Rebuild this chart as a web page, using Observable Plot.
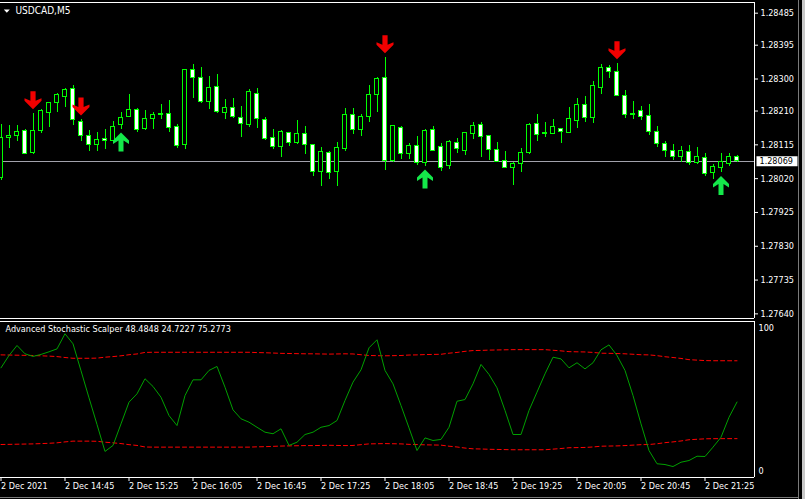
<!DOCTYPE html>
<html><head><meta charset="utf-8">
<script src="https://cdn.jsdelivr.net/npm/d3@7"></script>
<script src="https://cdn.jsdelivr.net/npm/@observablehq/plot@0.6"></script>
<style>
html,body{margin:0;padding:0;background:#000;}
#wrap{position:relative;width:805px;height:499px;background:#000;overflow:hidden;}
#wrap svg{display:block;}
.edge{position:absolute;}
</style></head><body><div id="wrap"><div id="main"></div><div id="ind"></div>
<div class="edge" style="left:798px;top:0;width:1px;height:499px;background:#7a7a7a"></div>
<div class="edge" style="left:802px;top:0;width:3px;height:499px;background:#c8c8c8"></div>
<div class="edge" style="left:0;top:497px;width:799px;height:1px;background:#7a7a7a"></div>
</div>
<script>
const symbolName = "USDCAD,M5";
const indicatorTitle = "Advanced Stochastic Scalper 48.4848 24.7227 75.2773";
const currentPrice = 1.28069;

const opens = [1.28021,1.28135,1.28141,1.28155,1.28092,1.28154,1.28204,1.28232,1.28249,1.28273,
1.28178,1.28141,1.28115,1.28132,1.28127,1.28171,1.28193,1.28214,1.28160,1.28188,
1.28200,1.28202,1.28165,1.28115,1.28324,1.28304,1.28235,1.28278,1.28205,1.28219,
1.28191,1.28170,1.28259,1.28186,1.28135,1.28109,1.28149,1.28120,1.28146,1.28115,
1.28038,1.28093,1.28038,1.28103,1.28200,1.28156,1.28193,1.28255,1.28304,1.28070,
1.28161,1.28089,1.28111,1.28065,1.28158,1.28108,1.28055,1.28119,1.28097,1.28145,
1.28172,1.28139,1.28101,1.28070,1.28051,1.28062,1.28092,1.28174,1.28145,1.28145,
1.28160,1.28149,1.28182,1.28228,1.28190,1.28274,1.28332,1.28321,1.28251,1.28203,
1.28209,1.28195,1.28152,1.28118,1.28098,1.28080,1.28096,1.28064,1.28079,1.28036,
1.28050,1.28061,1.28082];
const highs = [1.28172,1.28168,1.28170,1.28157,1.28204,1.28214,1.28235,1.28260,1.28272,1.28282,
1.28186,1.28154,1.28150,1.28159,1.28181,1.28206,1.28257,1.28216,1.28212,1.28205,
1.28229,1.28239,1.28172,1.28328,1.28340,1.28332,1.28307,1.28313,1.28243,1.28245,
1.28223,1.28271,1.28273,1.28192,1.28158,1.28154,1.28151,1.28184,1.28167,1.28117,
1.28108,1.28095,1.28121,1.28217,1.28217,1.28200,1.28282,1.28304,1.28361,1.28170,
1.28167,1.28119,1.28139,1.28158,1.28167,1.28118,1.28127,1.28133,1.28149,1.28178,
1.28178,1.28141,1.28122,1.28096,1.28064,1.28105,1.28174,1.28200,1.28178,1.28186,
1.28162,1.28221,1.28246,1.28251,1.28293,1.28340,1.28338,1.28344,1.28267,1.28237,
1.28223,1.28229,1.28167,1.28124,1.28116,1.28110,1.28113,1.28107,1.28091,1.28060,
1.28091,1.28091,1.28084];
const lows = [1.28015,1.28104,1.28123,1.28088,1.28089,1.28146,1.28165,1.28207,1.28221,1.28170,
1.28123,1.28095,1.28097,1.28101,1.28122,1.28158,1.28191,1.28149,1.28156,1.28158,
1.28186,1.28151,1.28104,1.28103,1.28246,1.28232,1.28214,1.28202,1.28187,1.28189,
1.28137,1.28165,1.28162,1.28128,1.28103,1.28080,1.28111,1.28117,1.28089,1.28027,
1.27999,1.28019,1.27999,1.28097,1.28145,1.28139,1.28178,1.28207,1.28043,1.28065,
1.28074,1.28074,1.28057,1.28054,1.28095,1.28041,1.28046,1.28092,1.28085,1.28130,
1.28080,1.28071,1.28064,1.28049,1.28002,1.28038,1.28087,1.28125,1.28137,1.28143,
1.28120,1.28147,1.28161,1.28179,1.28175,1.28257,1.28302,1.28250,1.28190,1.28186,
1.28184,1.28141,1.28107,1.28080,1.28071,1.28065,1.28058,1.28061,1.28027,1.28018,
1.28036,1.28055,1.28064];
const closes = [1.28133,1.28141,1.28150,1.28090,1.28153,1.28209,1.28233,1.28254,1.28270,1.28186,
1.28139,1.28115,1.28129,1.28127,1.28166,1.28191,1.28214,1.28157,1.28188,1.28200,
1.28201,1.28163,1.28113,1.28326,1.28304,1.28235,1.28275,1.28207,1.28219,1.28193,
1.28173,1.28264,1.28188,1.28131,1.28109,1.28150,1.28120,1.28146,1.28115,1.28038,
1.28096,1.28037,1.28107,1.28200,1.28156,1.28194,1.28256,1.28301,1.28070,1.28167,
1.28089,1.28111,1.28064,1.28155,1.28099,1.28051,1.28122,1.28104,1.28147,1.28167,
1.28138,1.28100,1.28066,1.28051,1.28062,1.28093,1.28171,1.28143,1.28147,1.28166,
1.28152,1.28188,1.28228,1.28190,1.28281,1.28332,1.28319,1.28252,1.28198,1.28198,
1.28193,1.28151,1.28118,1.28097,1.28080,1.28098,1.28064,1.28082,1.28033,1.28054,
1.28066,1.28082,1.28069];

const sellIdx = [4, 10, 48, 77];
const buyIdx = [15, 53, 90];

const priceTicks = [1.28485,1.28395,1.28300,1.28210,1.28115,1.28020,1.27925,1.27830,1.27735,1.27640];
const timeTicks = [0,8,16,24,32,40,48,56,64,72,80,88];
const timeLabels = ["2 Dec 2021","2 Dec 14:45","2 Dec 15:25","2 Dec 16:05","2 Dec 16:45","2 Dec 17:25",
"2 Dec 18:05","2 Dec 18:45","2 Dec 19:25","2 Dec 20:05","2 Dec 20:45","2 Dec 21:25"];

const stoch = [70.7,78.7,85.2,79.8,78.1,79.4,81.1,83.0,92.8,86.3,
68.8,51.2,33.9,16.4,20.3,34.3,48.4,53.8,63.6,58.6,
51.6,39.7,33.2,52.7,62.9,62.9,69.0,71.6,58.1,43.4,
37.6,35.4,32.1,28.9,27.9,31.1,20.3,22.4,27.4,28.9,
32.1,33.2,36.5,49.5,61.4,69.4,83.7,88.9,69.0,60.3,
46.2,31.7,17.0,25.2,23.5,24.2,32.1,49.0,50.1,60.3,
72.9,66.4,57.7,43.0,27.4,27.4,43.0,54.9,66.8,77.6,
76.5,70.7,74.0,70.0,74.0,82.4,85.6,78.7,69.0,52.7,
34.3,17.0,8.4,7.9,6.6,9.4,10.5,13.3,13.1,19.2,
25.6,38.6,48.4848];
const lowerBand = [20.9,21.0,21.1,21.2,21.3,21.5,21.7,22.0,22.6,23.1,
23.1,23.1,23.0,22.4,22.0,21.5,20.8,20.3,19.3,19.2,
19.2,19.2,19.2,19.2,19.2,19.2,19.2,19.2,19.2,19.2,
19.2,19.2,19.4,19.5,19.7,19.9,20.0,20.1,20.2,20.2,
20.3,20.4,20.3,20.2,20.3,20.8,21.3,21.4,21.5,21.4,
21.3,21.0,20.9,20.7,20.6,20.5,19.8,19.3,18.6,18.1,
18.0,17.8,17.7,17.6,17.5,17.5,17.5,17.5,17.5,17.9,
18.3,18.8,18.9,19.0,19.3,19.8,19.9,20.0,20.2,20.5,
20.8,20.9,21.4,22.1,22.6,23.2,24.0,24.3,24.6,24.7,
24.7,24.72,24.7227];
const upperBand = [79.1,79.0,78.9,78.8,78.7,78.5,78.3,78.0,77.4,76.9,
76.9,76.9,77.0,77.6,78.0,78.5,79.2,79.7,80.7,80.8,
80.8,80.8,80.8,80.8,80.8,80.8,80.8,80.8,80.8,80.8,
80.8,80.8,80.6,80.5,80.3,80.1,80.0,79.9,79.8,79.8,
79.7,79.6,79.7,79.8,79.7,79.2,78.7,78.6,78.5,78.6,
78.7,79.0,79.1,79.3,79.4,79.5,80.2,80.7,81.4,81.9,
82.0,82.2,82.3,82.4,82.5,82.5,82.5,82.5,82.5,82.1,
81.7,81.2,81.1,81.0,80.7,80.2,80.1,80.0,79.8,79.5,
79.2,79.1,78.6,77.9,77.4,76.8,76.0,75.7,75.4,75.3,
75.3,75.28,75.2773];

const FONT = "'DejaVu Sans Condensed','DejaVu Sans',sans-serif";
const GREEN = "#00ff00";
const xDomain = [-0.0625, 94.1875];
const priceDomain = [1.27627, 1.28515];
const stochDomain = [-0.52, 100.78];

const idx = d3.range(closes.length);
const candles = idx.map(i => ({i, o: opens[i], h: highs[i], l: lows[i], c: closes[i]}));
const bulls = candles.filter(d => d.c >= d.o);
const bears = candles.filter(d => d.c < d.o);

const arrowDown = {draw(ctx) {
  ctx.moveTo(0,0); ctx.lineTo(8.5,-8.5); ctx.lineTo(8.5,-11); ctx.lineTo(2.6,-8.5); ctx.lineTo(2.6,-18);
  ctx.lineTo(-2.6,-18); ctx.lineTo(-2.6,-8.5); ctx.lineTo(-8.5,-11); ctx.lineTo(-8.5,-8.5); ctx.closePath();
}};
const arrowUp = {draw(ctx) {
  ctx.moveTo(0,0); ctx.lineTo(8,8); ctx.lineTo(8,11.5); ctx.lineTo(2.5,8); ctx.lineTo(2.5,19);
  ctx.lineTo(-2.5,19); ctx.lineTo(-2.5,8); ctx.lineTo(-8,11.5); ctx.lineTo(-8,8); ctx.closePath();
}};
const tri = {draw(ctx) { ctx.moveTo(-3,-1.6); ctx.lineTo(3,-1.6); ctx.lineTo(0,1.6); ctx.closePath(); }};
const priceBox = {draw(ctx) { ctx.rect(2,-5,41,10); }};

const baseStyle = {background: "#000", color: "#fff", fontFamily: FONT, fontSize: "9px", overflow: "visible"};

const main = Plot.plot({
  width: 805, height: 320,
  marginTop: 2, marginBottom: 2, marginLeft: 0, marginRight: 51,
  style: baseStyle,
  x: {domain: xDomain, axis: null},
  y: {domain: priceDomain},
  marks: [
    Plot.ruleY([currentPrice], {stroke: "#a2a2ac", strokeWidth: 1, shapeRendering: "crispEdges"}),
    Plot.ruleX(candles, {x: "i", y1: "l", y2: "h", stroke: GREEN, shapeRendering: "crispEdges"}),
    Plot.rect(bulls, {x1: d => d.i - 0.25, x2: d => d.i + 0.25, y1: "o", y2: "c", fill: "#000", stroke: GREEN, shapeRendering: "crispEdges"}),
    Plot.rect(bears, {x1: d => d.i - 0.25, x2: d => d.i + 0.25, y1: "o", y2: "c", fill: "#fff", stroke: GREEN, shapeRendering: "crispEdges"}),
    Plot.dot(sellIdx, {x: d => d, y: d => highs[d], symbol: arrowDown, fill: "#f20000", stroke: null, r: 8, dy: -4}),
    Plot.dot(buyIdx, {x: d => d, y: d => lows[d], symbol: arrowUp, fill: "#14e84a", stroke: null, r: 8, dy: 3}),
    Plot.ruleY([priceDomain[1]], {stroke: "#fff", shapeRendering: "crispEdges"}),
    Plot.ruleY([priceDomain[0]], {stroke: "#fff", shapeRendering: "crispEdges"}),
    Plot.ruleX([xDomain[1]], {stroke: "#fff", shapeRendering: "crispEdges"}),
    Plot.axisY(priceTicks, {anchor: "right", tickSize: 3, tickPadding: 3, tickFormat: d3.format(".5f"), fill: "#fff", stroke: "#fff"}),
    Plot.dot([currentPrice], {x: () => xDomain[1], y: d => d, symbol: priceBox, fill: "#fff", stroke: null}),
    Plot.text([currentPrice], {x: () => xDomain[1], y: d => d, text: d => d3.format(".5f")(d), dx: 5, textAnchor: "start", fill: "#000"}),
    Plot.dot([symbolName], {frameAnchor: "top-left", symbol: tri, fill: "#fff", stroke: null, dx: 6.3, dy: 8.7}),
    Plot.text([symbolName], {frameAnchor: "top-left", text: d => d, dx: 15, dy: 4, lineAnchor: "top", textAnchor: "start", fill: "#fff", fontSize: 10})
  ]
});

const ind = Plot.plot({
  width: 805, height: 179,
  marginTop: 1, marginBottom: 22, marginLeft: 0, marginRight: 51,
  style: baseStyle,
  x: {domain: xDomain},
  y: {domain: stochDomain},
  marks: [
    Plot.line(idx, {x: d => d, y: d => upperBand[d], stroke: "#ff0000", strokeWidth: 1, strokeDasharray: "4,3"}),
    Plot.line(idx, {x: d => d, y: d => lowerBand[d], stroke: "#ff0000", strokeWidth: 1, strokeDasharray: "4,3"}),
    Plot.line(idx, {x: d => d, y: d => stoch[d], stroke: "#00a000", strokeWidth: 1}),
    Plot.ruleY([stochDomain[1]], {stroke: "#fff", shapeRendering: "crispEdges"}),
    Plot.ruleY([stochDomain[0]], {stroke: "#fff", shapeRendering: "crispEdges"}),
    Plot.ruleX([xDomain[1]], {stroke: "#fff", shapeRendering: "crispEdges"}),
    Plot.axisY([100], {anchor: "right", tickSize: 0, tickPadding: 4, dy: 5, fill: "#fff"}),
    Plot.axisY([0], {anchor: "right", tickSize: 0, tickPadding: 4, dy: -6, fill: "#fff"}),
    Plot.axisX(timeTicks, {anchor: "bottom", tickSize: 4, tickPadding: 1, textAnchor: "start",
      tickFormat: d => timeLabels[timeTicks.indexOf(d)], fill: "#fff", stroke: "#fff"}),
    Plot.text([indicatorTitle], {frameAnchor: "top-left", text: d => d, dx: 5, dy: 4, lineAnchor: "top", textAnchor: "start", fill: "#fff"})
  ]
});

document.getElementById("main").appendChild(main);
document.getElementById("ind").appendChild(ind);
</script>
</body></html>
